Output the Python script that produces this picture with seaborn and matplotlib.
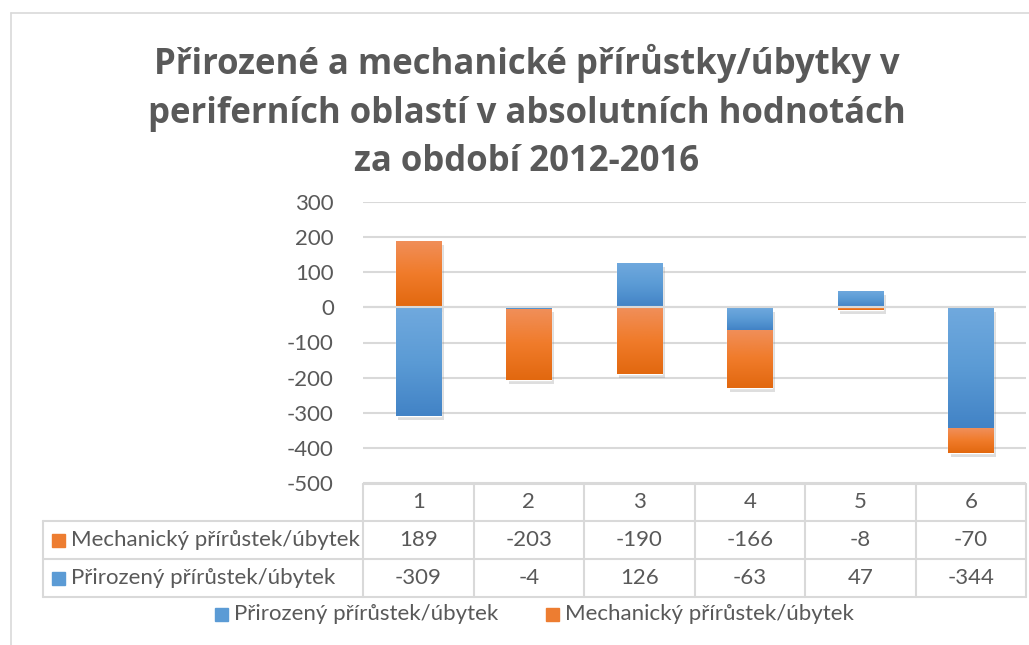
import numpy as np
import matplotlib
matplotlib.use("Agg")
import matplotlib.pyplot as plt
import matplotlib.patheffects as pe
from matplotlib.colors import LinearSegmentedColormap
import seaborn as sns

# data
kategorie = [1, 2, 3, 4, 5, 6]
mechanicky = [189, -203, -190, -166, -8, -70]
prirozeny = [-309, -4, 126, -63, 47, -344]
nazev_mech = "Mechanický přírůstek/úbytek"
nazev_prir = "Přirozený přírůstek/úbytek"
titulek = "Přirozené a mechanické přírůstky/úbytky v\nperiferních oblastí v absolutních hodnotách\nza období 2012-2016"

sns.set_style("white")
plt.rcParams['font.family'] = ['Lato', 'DejaVu Sans']
plt.rcParams['axes.unicode_minus'] = False
seda = "#595959"
cara = "#d9d9d9"
modra = "#5b9bd5"
oranz = "#ed7d31"

W, H = 1029, 645
fig = plt.figure(figsize=(W / 100, H / 100), dpi=100)

# pixel overlay for frame, title and table
ov = fig.add_axes([0, 0, 1, 1])
ov.set_xlim(0, W)
ov.set_ylim(H, 0)
ov.axis("off")
ov.plot([11, W], [13, 13], color=cara, lw=1.2)
ov.plot([11, 11], [13, H], color=cara, lw=1.2)

ov.text(527, 112, titulek, ha="center", va="center", fontsize=25,
        fontweight="bold", color=seda, linespacing=1.45,
        family=['Open Sans', 'DejaVu Sans'])

# plot area
x0, x1 = 363, 1026
y_top, y_bot = 202, 483
ax = fig.add_axes([x0 / W, 1 - y_bot / H, (x1 - x0) / W, (y_bot - y_top) / H])

sns.barplot(x=kategorie, y=prirozeny, color=modra, width=0.41, ax=ax,
            saturation=1, zorder=2)
# Excel style stacking: negatives and positives stack separately
dno = [p if (p < 0) == (m < 0) else 0 for p, m in zip(prirozeny, mechanicky)]
ax.bar(range(len(kategorie)), mechanicky, bottom=dno, width=0.41,
       color=oranz, zorder=2)

ax.set_xlim(-0.5, len(kategorie) - 0.5)
ax.set_ylim(-500, 300)
ax.set_yticks(range(-500, 301, 100))
ax.yaxis.grid(True, color=cara, lw=1.5, zorder=0)
ax.set_axisbelow(True)
for s in ax.spines.values():
    s.set_visible(False)
ax.set_xticks([])
ax.set_xlabel("")
ax.tick_params(axis="y", length=0, labelsize=16, labelcolor=seda, pad=21)

# gradients and shadows
grad = {
    modra: LinearSegmentedColormap.from_list("m", ["#4283c6", "#5b9bd5", "#70a9de"]),
    oranz: LinearSegmentedColormap.from_list("o", ["#e2680f", "#f07b2a", "#f08f5a"]),
}
g = np.linspace(0, 1, 100).reshape(-1, 1)
for p in ax.patches:
    fc = matplotlib.colors.to_hex(p.get_facecolor())
    cm = grad[modra] if fc == modra else grad[oranz]
    p.set_path_effects([pe.SimplePatchShadow(offset=(2, -3), shadow_rgbFace="#7f7f7f", alpha=0.25),
                        pe.Normal()])
    bx, by = p.get_x(), p.get_y()
    bw, bh = p.get_width(), p.get_height()
    lo, hi = min(by, by + bh), max(by, by + bh)
    if hi - lo <= 0:
        continue
    im = ax.imshow(g, cmap=cm, aspect="auto", extent=[bx, bx + bw, lo, hi],
                   origin="lower", zorder=3)
    im.set_clip_path(p)
ax.set_xlim(-0.5, len(kategorie) - 0.5)
ax.set_ylim(-500, 300)
ax.axhline(0, color=cara, lw=1.5, zorder=4)

# data table
lab_x = 43
radky = [484, 521, 559, 597]
sloupce = np.linspace(x0, x1, len(kategorie) + 1)
tl = dict(color=cara, lw=1.5)
ov.plot([x0, x1], [radky[0], radky[0]], **tl)
for yy in radky[1:]:
    ov.plot([lab_x, x1], [yy, yy], **tl)
ov.plot([lab_x, lab_x], [radky[1], radky[3]], **tl)
for i, xx in enumerate(sloupce):
    ov.plot([xx, xx], [radky[0], radky[3]], **tl)

fs = 16
for i, k in enumerate(kategorie):
    cx = (sloupce[i] + sloupce[i + 1]) / 2
    ov.text(cx, (radky[0] + radky[1]) / 2, str(k), ha="center", va="center", fontsize=fs, color=seda)
    ov.text(cx, (radky[1] + radky[2]) / 2, str(mechanicky[i]), ha="center", va="center", fontsize=fs, color=seda)
    ov.text(cx, (radky[2] + radky[3]) / 2, str(prirozeny[i]), ha="center", va="center", fontsize=fs, color=seda)

for (yy0, yy1), nm, c in [((radky[1], radky[2]), nazev_mech, oranz), ((radky[2], radky[3]), nazev_prir, modra)]:
    cy = (yy0 + yy1) / 2
    ov.add_patch(plt.Rectangle((52, cy - 6), 13, 13, color=c))
    ov.text(71, cy, nm, ha="left", va="center", fontsize=fs, color=seda)

# legend below
for lx, nm, c in [(215, nazev_prir, modra), (546, nazev_mech, oranz)]:
    ov.add_patch(plt.Rectangle((lx, 608), 13, 13, color=c))
    ov.text(lx + 19, 614, nm, ha="left", va="center", fontsize=fs, color=seda)

fig.savefig("out.png", dpi=100, facecolor="white")
